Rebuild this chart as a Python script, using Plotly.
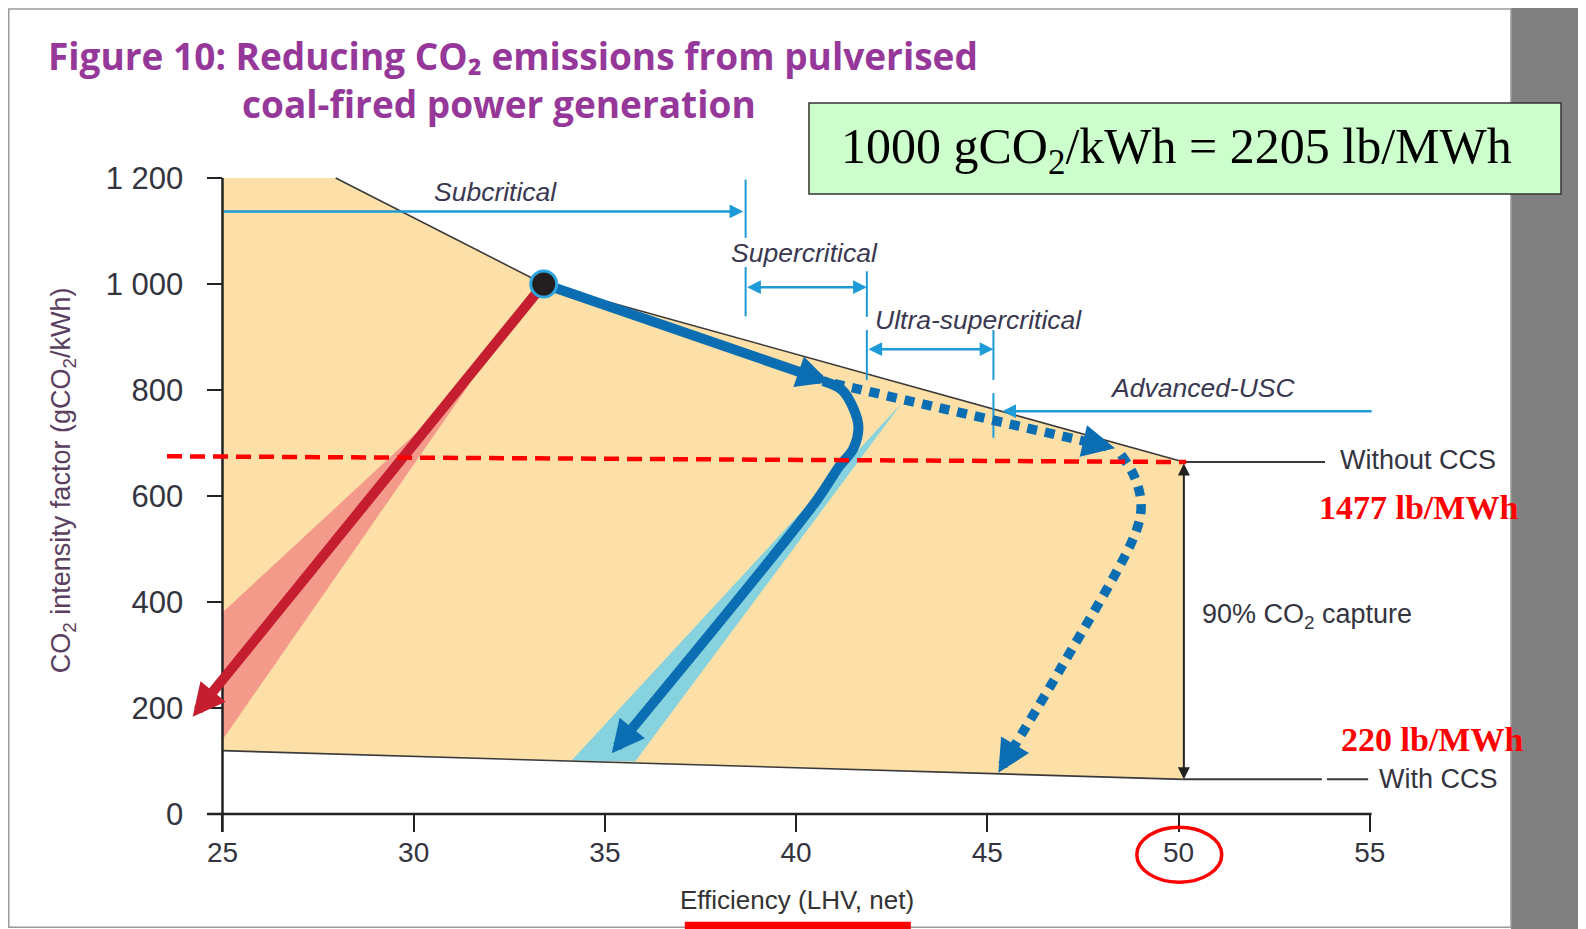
import math
import plotly.graph_objects as go

# ---------------- data ----------------
x_ticks = [25, 30, 35, 40, 45, 50, 55]
y_ticks = [0, 200, 400, 600, 800, 1000, 1200]
y_tick_labels = ["0", "200", "400", "600", "800", "1 000", "1 200"]

# envelope of pulverised-coal plants (efficiency %, gCO2/kWh)
envelope_eff = [25, 27.96, 33.4, 50.14, 50.14, 25]
envelope_co2 = [1200, 1200, 1000, 664, 65.4, 119.5]
upper_eff = [27.96, 33.4, 50.14]
upper_co2 = [1200, 1000, 664]
lower_eff = [25, 50.14]
lower_co2 = [119.5, 65.4]

start_eff = [33.4]
start_co2 = [1000]

red_wedge_eff = [31.5, 25, 25]
red_wedge_co2 = [815, 380, 140]
blue_wedge_eff = [42.76, 35.79, 34.13]
blue_wedge_co2 = [775, 99, 101]

red_arrow_eff = [33.4, 24.22]
red_arrow_co2 = [1000, 183.6]
blue_arrow1_eff = [33.4, 40.87]
blue_arrow1_co2 = [1000, 814.5]
blue_curve_eff = [40.7, 41.2, 41.5, 41.63, 41.5, 41.12, 40.54, 35.18]
blue_curve_co2 = [817, 800, 765, 730, 690, 655, 592, 114.5]
dotted1_eff = [41.0, 48.34]
dotted1_co2 = [812, 690]
dotted2_eff = [48.5, 48.85, 49.02, 48.9, 46.93, 45.29]
dotted2_co2 = [678, 636, 587, 535, 276, 78]

without_ccs_co2 = [675, 664]          # red dashed level (1477 lb/MWh)
without_ccs_eff = [23.55, 50.2]

capture_eff = 50.14
capture_top, capture_bottom = 664, 65.4

# technology ranges: (label, y, x_from, x_to, two-headed, label x, label y)
ranges = [
    ("Subcritical", 1137, 25.0, 38.62, False, 32.13, 1173),
    ("Supercritical", 994, 38.68, 41.85, True, 40.21, 1059),
    ("Ultra-supercritical", 877, 41.85, 45.16, True, 44.78, 933),
    ("Advanced-USC", 760, 55.09, 45.39, False, 50.65, 804),
]
divider_eff = [38.68, 38.68, None, 38.68, 38.68, None,
               41.85, 41.85, None, 41.85, 41.85, None,
               45.16, 45.16, None, 45.16, 45.16]
divider_co2 = [1197, 1087, None, 1032, 939, None,
               1024, 938, None, 913, 819, None,
               913, 819, None, 794, 710]

# ---------------- layout constants ----------------
W, H = 1578, 921          # page adds an 8px body margin
X_RANGE = [19.391, 60.656]
Y_RANGE = [-216.98, 1520.75]
KX = W / (X_RANGE[1] - X_RANGE[0])
KY = H / (Y_RANGE[1] - Y_RANGE[0])

ORANGE = "#FDE0A7"
RED = "#C41E30"
SALMON = "#F49A8A"
BLUE = "#0B6EB2"
LBLUE = "#86D2DE"
RANGE_BLUE = "#1E9AD6"
TXT = "#34343f"
SANS = "Liberation Sans, Arial, sans-serif"


def back_point(x0, y0, x1, y1, d):
    dxp = (x1 - x0) * KX
    dyp = (y1 - y0) * KY
    L = math.hypot(dxp, dyp)
    f = d / L
    return x1 - (x1 - x0) * f, y1 - (y1 - y0) * f


fig = go.Figure()


def line(xs, ys, color, width, dash=None, shape="linear"):
    fig.add_trace(go.Scatter(x=xs, y=ys, mode="lines", hoverinfo="skip",
                             line=dict(color=color, width=width, dash=dash, shape=shape)))


def poly(xs, ys, color):
    fig.add_trace(go.Scatter(x=xs, y=ys, mode="lines", fill="toself", fillcolor=color,
                             line=dict(width=0), hoverinfo="skip"))


heads = []


def head(x0, y0, x1, y1, color, width, size=0.65, back=20):
    bx, by = back_point(x0, y0, x1, y1, back)
    heads.append(dict(x=x1, y=y1, ax=bx, ay=by, xref="x", yref="y", axref="x", ayref="y",
                      showarrow=True, arrowhead=2, arrowsize=size, arrowwidth=width,
                      arrowcolor=color, text="", standoff=0))
    return bx, by


# background envelope and wedges
poly(envelope_eff, envelope_co2, ORANGE)
poly(red_wedge_eff, red_wedge_co2, SALMON)
poly(blue_wedge_eff, blue_wedge_co2, LBLUE)
line(upper_eff, upper_co2, "#3a3a3a", 1.6)
line(lower_eff, lower_co2, "#3a3a3a", 1.6)

# reference lines to the right
line([capture_eff, 53.83], [capture_top, capture_top], "#3a3a3a", 2)
line([capture_eff, 53.75, None, 53.88, 54.96],
     [capture_bottom, capture_bottom, None, capture_bottom, capture_bottom], "#3a3a3a", 2)

# axes lines
line([24.6, 55.05], [0, 0], "#222", 2.5)
line([25, 25], [-34, 1200], "#222", 2.5)

# range dividers
line(divider_eff, divider_co2, RANGE_BLUE, 2)

# red arrow
bx, by = head(red_arrow_eff[0], red_arrow_co2[0], red_arrow_eff[1], red_arrow_co2[1], RED, 10)
line([red_arrow_eff[0], bx], [red_arrow_co2[0], by], RED, 10)

# blue solid arrow 1
bx, by = head(blue_arrow1_eff[0], blue_arrow1_co2[0], blue_arrow1_eff[1], blue_arrow1_co2[1], BLUE, 10)
line([blue_arrow1_eff[0], bx], [blue_arrow1_co2[0], by], BLUE, 10)

# blue curved arrow
bx, by = head(blue_curve_eff[-2], blue_curve_co2[-2], blue_curve_eff[-1], blue_curve_co2[-1], BLUE, 10)
line(blue_curve_eff[:-1] + [bx], blue_curve_co2[:-1] + [by], BLUE, 10, shape="spline")

# dotted arrows
bx, by = head(dotted1_eff[0], dotted1_co2[0], dotted1_eff[1], dotted1_co2[1], BLUE, 10, back=20)
ex, ey = back_point(dotted1_eff[0], dotted1_co2[0], dotted1_eff[1], dotted1_co2[1], 30)
line([dotted1_eff[0], ex], [dotted1_co2[0], ey], BLUE, 9.5, dash="10px,8px")
bx, by = head(dotted2_eff[-2], dotted2_co2[-2], dotted2_eff[-1], dotted2_co2[-1], BLUE, 10, back=20)
ex, ey = back_point(dotted2_eff[-2], dotted2_co2[-2], dotted2_eff[-1], dotted2_co2[-1], 30)
line(dotted2_eff[:-1] + [ex], dotted2_co2[:-1] + [ey], BLUE, 9.5, dash="10px,8px", shape="spline")

# red dashed level line
line(without_ccs_eff, without_ccs_co2, "#FF0000", 4.5, dash="15px,8px")

# starting plant dot
fig.add_trace(go.Scatter(x=start_eff, y=start_co2, mode="markers", hoverinfo="skip",
                         marker=dict(size=26, color="#231F20", line=dict(color="#2FA6DF", width=3))))

annotations = list(heads)

# range arrows + labels
for label, yv, xa, xb, both, lx, ly in ranges:
    a = dict(x=xb, y=yv, ax=xa, ay=yv, xref="x", yref="y", axref="x", ayref="y",
             showarrow=True, arrowhead=2, arrowsize=1.1, arrowwidth=2.5,
             arrowcolor=RANGE_BLUE, text="", standoff=0)
    if both:
        a.update(arrowside="end+start", startarrowhead=2, startarrowsize=1.1, startstandoff=0)
    annotations.append(a)
    annotations.append(dict(x=lx, y=ly, xref="x", yref="y", showarrow=False,
                            xanchor="center", yanchor="middle",
                            text="<i>" + label + "</i>",
                            font=dict(family=SANS, size=26.5, color="#3a3850")))

# 90% capture double arrow
annotations.append(dict(x=capture_eff, y=capture_bottom, ax=capture_eff, ay=capture_top,
                        xref="x", yref="y", axref="x", ayref="y", showarrow=True,
                        arrowhead=2, arrowsize=1.2, arrowwidth=2, arrowcolor="#222",
                        arrowside="end+start", startarrowhead=2, startarrowsize=1.2,
                        text="", standoff=0, startstandoff=0))


def ptx(rx):
    return (rx - 8) / W


def pty(ry):
    return 1 - (ry - 8) / H


# right-hand labels
annotations += [
    dict(x=54.17, y=668, xref="x", yref="y", xanchor="left", yanchor="middle", showarrow=False,
         text="Without CCS", font=dict(family=SANS, size=27, color=TXT)),
    dict(x=55.2, y=66, xref="x", yref="y", xanchor="left", yanchor="middle", showarrow=False,
         text="With CCS", font=dict(family=SANS, size=27, color=TXT)),
    dict(x=50.56, y=373, xref="x", yref="y", xanchor="left", yanchor="middle", showarrow=False,
         text="90% CO<sub>2</sub> capture", font=dict(family=SANS, size=27, color=TXT)),
    dict(x=53.62, y=579, xref="x", yref="y", xanchor="left", yanchor="middle", showarrow=False,
         text="<b>1477 lb/MWh</b>", font=dict(family="Liberation Serif", size=34, color="#FF0000")),
    dict(x=54.2, y=141, xref="x", yref="y", xanchor="left", yanchor="middle", showarrow=False,
         text="<b>220 lb/MWh</b>", font=dict(family="Liberation Serif", size=34, color="#FF0000")),
    # axis titles
    dict(x=40.03, y=-162, xref="x", yref="y", xanchor="center", yanchor="middle", showarrow=False,
         text="Efficiency (LHV, net)", font=dict(family=SANS, size=26, color="#333")),
    dict(x=ptx(62.7), y=pty(480.5), xref="paper", yref="paper", xanchor="center",
         yanchor="middle", showarrow=False, textangle=-90,
         text="CO<sub>2</sub> intensity factor (gCO<sub>2</sub>/kWh)",
         font=dict(family=SANS, size=27, color="#5a4060")),
    # title
    dict(x=ptx(46), y=pty(55), xref="paper", yref="paper", xanchor="left", yanchor="middle",
         showarrow=False, text="<b>Figure 10: Reducing CO₂ emissions from pulverised</b>",
         font=dict(family="Open Sans", size=37, color="#96379A")),
    dict(x=ptx(240), y=pty(103), xref="paper", yref="paper", xanchor="left", yanchor="middle",
         showarrow=False, text="<b>coal-fired power generation</b>",
         font=dict(family="Open Sans", size=37, color="#96379A")),
    # conversion box text
    dict(x=ptx(1176), y=pty(150), xref="paper", yref="paper", xanchor="center", yanchor="middle",
         showarrow=False, text="1000 gCO<sub>2</sub>/kWh = 2205 lb/MWh",
         font=dict(family="Liberation Serif", size=50, color="black")),
]

shapes = [
    dict(type="rect", xref="paper", yref="paper", x0=ptx(1511), x1=1, y0=0, y1=1,
         fillcolor="#808080", line=dict(width=0), layer="below"),
    dict(type="rect", xref="paper", yref="paper", x0=0.0005, x1=ptx(1511), y0=0.002, y1=0.999,
         fillcolor="rgba(0,0,0,0)", line=dict(color="#9a9a9a", width=1.5), layer="below"),
    dict(type="rect", xref="paper", yref="paper", x0=ptx(809), x1=ptx(1561),
         y0=pty(194), y1=pty(103), fillcolor="#CCFFCC",
         line=dict(color="#333", width=1.5), layer="above"),
    # red highlight circle round the 50 tick and underline of the x title
    dict(type="circle", xref="x", yref="y", x0=48.91, x1=51.13, y0=-128.7, y1=-24.9,
         line=dict(color="#FF0000", width=3.5), layer="above"),
    dict(type="rect", xref="x", yref="y", x0=37.09, x1=43.0, y0=-203.5, y1=-230,
         fillcolor="#FF0000", line=dict(width=0), layer="above"),
]

x_pos = (0 - Y_RANGE[0]) / (Y_RANGE[1] - Y_RANGE[0])
y_pos = (25 - X_RANGE[0]) / (X_RANGE[1] - X_RANGE[0])

fig.update_layout(
    width=W, height=H, margin=dict(l=0, r=0, t=0, b=0, autoexpand=False),
    paper_bgcolor="white", plot_bgcolor="rgba(0,0,0,0)", showlegend=False,
    xaxis=dict(range=X_RANGE, domain=[0, 1], anchor="free", position=x_pos,
               tickvals=x_ticks, ticks="outside", ticklen=17, tickwidth=2, tickcolor="#222",
               showline=False, showgrid=False, zeroline=False, automargin=False,
               ticklabelstandoff=-4,
               tickfont=dict(family=SANS, size=28, color=TXT), fixedrange=True),
    yaxis=dict(range=Y_RANGE, domain=[0, 1], anchor="free", position=y_pos,
               tickvals=y_ticks, ticktext=y_tick_labels, ticks="outside", ticklen=15,
               tickwidth=2, tickcolor="#222", showline=False, showgrid=False,
               zeroline=False, automargin=False, ticklabelstandoff=18,
               tickfont=dict(family=SANS, size=31, color=TXT), fixedrange=True),
    annotations=annotations,
    shapes=shapes,
)

fig.write_html("out.html")
